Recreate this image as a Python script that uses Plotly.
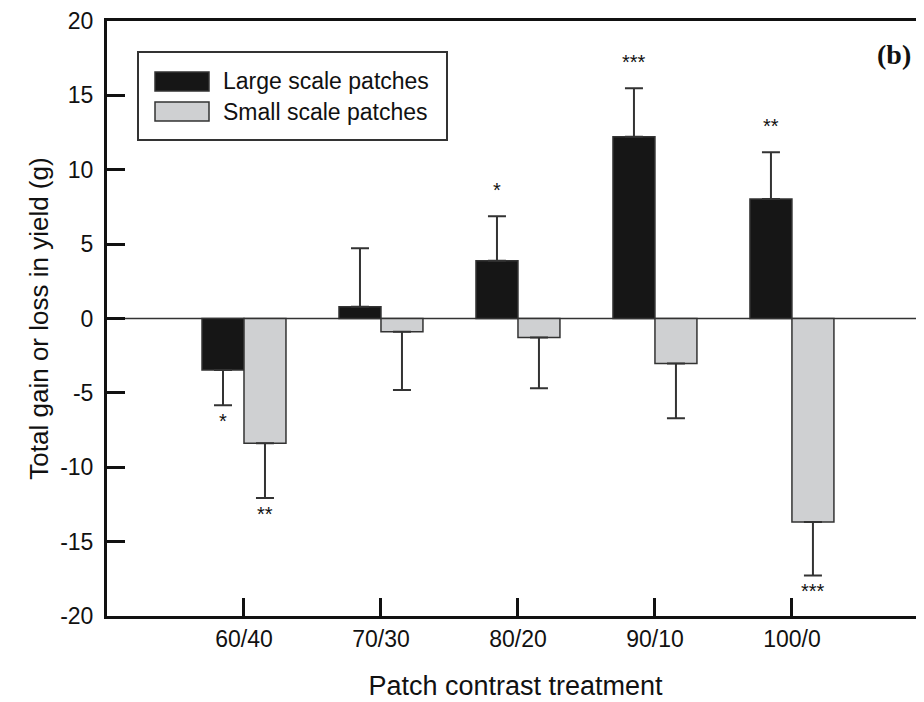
import plotly.graph_objects as go

# ---- data ----
categories = ["60/40", "70/30", "80/20", "90/10", "100/0"]
large_vals = [-3.46, 0.79, 3.89, 12.22, 8.03]
large_err = [2.38, 3.93, 2.98, 3.26, 3.14]
small_vals = [-8.39, -0.89, -1.27, -3.02, -13.68]
small_err = [3.68, 3.92, 3.42, 3.69, 3.59]
large_sig = ["*", "", "*", "***", "**"]
small_sig = ["**", "", "", "", "***"]
series_names = ["Large scale patches", "Small scale patches"]
y_ticks = [-20, -15, -10, -5, 0, 5, 10, 15, 20]
y_tick_text = ["-20", "-15", "-10", "-5", "0", "5", "10", "15", "20"]

# ---- style ----
PAGE_OFF = 8  # default body margin of the html page
W, H = 924 - PAGE_OFF, 702 - PAGE_OFF
ML, MT, MB, MR = 107 - PAGE_OFF, 21 - PAGE_OFF, 86, 0
PW, PH = W - ML - MR, H - MT - MB
DARK = "#161616"
LIGHT = "#cfd0d2"
EDGE = "#333333"
AX = "#111111"
FONT = "Liberation Sans, Arial, sans-serif"


def up(v, e):
    return [e if x >= 0 else 0 for x, e in zip(v, e)]


def dn(v, e):
    return [e if x < 0 else 0 for x, e in zip(v, e)]


fig = go.Figure()
for name, vals, errs, col in [
    (series_names[0], large_vals, large_err, DARK),
    (series_names[1], small_vals, small_err, LIGHT),
]:
    fig.add_trace(go.Bar(
        x=categories, y=vals, name=name,
        marker=dict(color=col, line=dict(color=EDGE, width=1.5)),
        error_y=dict(type="data", symmetric=False,
                     array=up(vals, errs), arrayminus=dn(vals, errs),
                     color=EDGE, thickness=2, width=9),
        showlegend=False,
    ))

# significance labels
for offset, vals, errs, sigs in [(-0.1535, large_vals, large_err, large_sig),
                                 (0.1535, small_vals, small_err, small_sig)]:
    for i, (v, e, s) in enumerate(zip(vals, errs, sigs)):
        if not s:
            continue
        pos = v >= 0
        fig.add_annotation(
            x=i + offset, y=v + e if pos else v - e, xref="x", yref="y",
            text=s, showarrow=False,
            font=dict(family=FONT, size=20, color=AX),
            yanchor="middle", yshift=26 if pos else -16,
        )


def px_x(p):
    return (p - PAGE_OFF - ML) / PW


def px_y(p):
    return (MT + PH - (p - PAGE_OFF)) / PH


# legend box (drawn manually)
shapes = [
    dict(type="rect", xref="paper", yref="paper",
         x0=px_x(138), x1=px_x(447), y0=px_y(140), y1=px_y(52),
         line=dict(color=EDGE, width=2), fillcolor="white", layer="above"),
]
for (y0, y1), col, name in [((72, 91), DARK, series_names[0]),
                            ((102, 121), LIGHT, series_names[1])]:
    shapes.append(dict(type="rect", xref="paper", yref="paper",
                       x0=px_x(155), x1=px_x(209), y0=px_y(y1), y1=px_y(y0),
                       line=dict(color=EDGE, width=1.5), fillcolor=col, layer="above"))
    fig.add_annotation(x=px_x(221), y=px_y((y0 + y1) / 2), xref="paper", yref="paper",
                       text=name, showarrow=False, xanchor="left", yanchor="middle",
                       font=dict(family=FONT, size=23, color=AX))

# zero line
shapes.append(dict(type="line", xref="paper", yref="y", x0=0, x1=1, y0=0, y1=0,
                   line=dict(color=EDGE, width=1.5), layer="below"))

fig.add_annotation(x=1, y=px_y(54), xref="paper", yref="paper", text="<b>(b)</b>",
                   showarrow=False, xanchor="right", yanchor="middle", xshift=-11,
                   font=dict(family="Liberation Serif, Times New Roman, serif", size=28, color=AX))

fig.update_layout(
    width=W, height=H,
    margin=dict(l=ML, r=MR, t=MT, b=MB),
    paper_bgcolor="white", plot_bgcolor="white",
    barmode="group", bargap=0.387, bargroupgap=0,
    shapes=shapes,
    font=dict(family=FONT, color=AX),
    xaxis=dict(
        range=[-1, 4.964], type="category",
        showline=True, linecolor=AX, linewidth=3, mirror=True,
        ticks="inside", ticklen=18, tickwidth=3, tickcolor=AX,
        tickfont=dict(size=23, family=FONT, color=AX),
        showgrid=False, zeroline=False,
        title=dict(text="Patch contrast treatment", font=dict(size=27, family=FONT, color=AX),
                   standoff=26),
    ),
    yaxis=dict(
        range=[-20, 20], tickvals=y_ticks, ticktext=y_tick_text,
        showline=True, linecolor=AX, linewidth=3, mirror=False,
        ticks="inside", ticklen=18, tickwidth=3, tickcolor=AX,
        tickfont=dict(size=23, family=FONT, color=AX),
        ticklabelstandoff=6,
        showgrid=False, zeroline=False,
        title=dict(text="Total gain or loss in yield (g)", font=dict(size=26, family=FONT, color=AX),
                   standoff=5),
    ),
)

fig.write_html("out.html")
